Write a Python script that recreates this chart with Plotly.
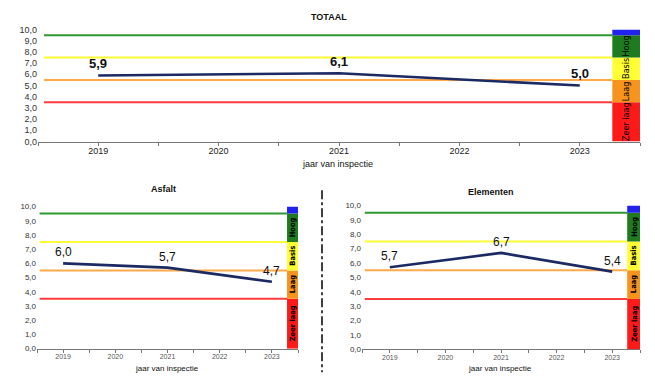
import plotly.graph_objects as go

years = [2019, 2020, 2021, 2022, 2023]
totaal = [5.9, None, 6.1, None, 5.0]
asfalt = [6.0, None, 5.7, None, 4.7]
elementen = [5.7, None, 6.7, None, 5.4]

thresholds = [3.5, 5.5, 7.5, 9.5]
threshold_colors = ["#FF3B3B", "#FFAA4A", "#FFFF33", "#2E9A2E"]

band_edges = [0, 3.5, 5.5, 7.5, 9.5, 10]
band_colors = ["#FF1A1A", "#F7941D", "#FFFF33", "#1E7B1E", "#2222EE"]
band_labels = ["Zeer laag", "Laag", "Basis", "Hoog", ""]

yticks = [0, 1, 2, 3, 4, 5, 6, 7, 8, 9, 10]

LINE = "#1B2A63"
FONT = "Liberation Sans, Arial, sans-serif"
NARROW = "Liberation Sans Narrow, Arial Narrow, DejaVu Sans Condensed, Liberation Sans, sans-serif"
WIN_W, WIN_H = 655, 388
OFF = 8  # default page body margin
W, H = WIN_W - OFF, WIN_H - OFF


def px(x):
    return (x - OFF) / W


def py(y):
    return 1 - (y - OFF) / H


panels = [
    dict(name="TOTAAL", data=totaal, x=(38, 640), y=(25, 140), bar0=2023.27,
         title=(329, 12), xl=(338, 163), lab_size=13, lab_bold=True, lab_shift=12,
         tick_size=9, ytick_size=9, band_size=9, band_bold=False, tickcol="#222", xl_size=9),
    dict(name="Asfalt", data=asfalt, x=(37, 298), y=(206.7, 352.7), bar0=2023.29,
         title=(163, 189), xl=(167, 373), lab_size=12, lab_bold=False, lab_shift=11,
         tick_size=7, ytick_size=8, band_size=7.5, band_bold=True, tickcol="#555", xl_size=8),
    dict(name="Elementen", data=elementen, x=(362, 640), y=(205.7, 353.3), bar0=2023.27,
         title=(491, 192), xl=(500, 373), lab_size=12, lab_bold=False, lab_shift=11,
         tick_size=7, ytick_size=8, band_size=7.5, band_bold=True, tickcol="#555", xl_size=8),
]

fig = go.Figure()
shapes = []
annotations = []

for i, p in enumerate(panels):
    sfx = "" if i == 0 else str(i + 1)
    xa, ya = "x" + sfx, "y" + sfx
    fig.add_trace(go.Scatter(
        x=years, y=p["data"], mode="lines", connectgaps=True,
        line=dict(color=LINE, width=2.6),
        xaxis=xa, yaxis=ya, showlegend=False, hoverinfo="skip"))

    for yr, v in zip(years, p["data"]):
        if v is None:
            continue
        t = f"{v:.1f}".replace(".", ",")
        if p["lab_bold"]:
            t = f"<b>{t}</b>"
        annotations.append(dict(xref=xa, yref=ya, x=yr, y=v, text=t, showarrow=False,
                                yshift=p["lab_shift"], xanchor="center", yanchor="middle",
                                font=dict(family=FONT, size=p["lab_size"], color="#111")))

    fig.layout["xaxis" + sfx] = dict(
        domain=[px(p["x"][0]), px(p["x"][1])], anchor=ya, range=[2018.5, 2023.5],
        tickvals=years, ticktext=[str(y) for y in years], ticks="",
        ticklabelstandoff=1,
        showline=True, linecolor="#777", linewidth=1, showgrid=False, zeroline=False,
        tickfont=dict(family=FONT, size=p["tick_size"], color=p["tickcol"]),
        minor=dict(ticks="outside", tick0=2018.5, dtick=0.5, ticklen=3, tickcolor="#777"),
    )
    fig.layout["yaxis" + sfx] = dict(
        domain=[py(p["y"][1]), py(p["y"][0])], anchor=xa, range=[0, 10],
        tickvals=yticks, tickformat=".1f",
        showgrid=False, zeroline=False, showline=False, ticks="",
        tickfont=dict(family=FONT, size=p["ytick_size"], color="#333"),
    )

    for t, c in zip(thresholds, threshold_colors):
        shapes.append(dict(type="line", xref=xa, yref=ya, x0=2018.55, x1=p["bar0"],
                           y0=t, y1=t, line=dict(color=c, width=2), layer="below"))
    for k in range(len(band_colors)):
        shapes.append(dict(type="rect", xref=xa, yref=ya, x0=p["bar0"], x1=2023.5,
                           y0=band_edges[k], y1=band_edges[k + 1],
                           fillcolor=band_colors[k], line=dict(width=0), layer="above"))
        if band_labels[k]:
            lab = f"<b>{band_labels[k]}</b>" if p["band_bold"] else band_labels[k]
            annotations.append(dict(
                xref=xa, yref=ya, x=(p["bar0"] + 2023.5) / 2,
                y=(band_edges[k] + band_edges[k + 1]) / 2, text=lab,
                textangle=-90, showarrow=False,
                font=dict(family=NARROW, size=p["band_size"], color="#000")))

    annotations.append(dict(xref="paper", yref="paper", x=px(p["title"][0]), y=py(p["title"][1]),
                            text=f"<b>{p['name']}</b>", showarrow=False,
                            font=dict(family=FONT, size=9, color="#111"),
                            xanchor="center", yanchor="middle"))
    annotations.append(dict(xref="paper", yref="paper", x=px(p["xl"][0]), y=py(p["xl"][1]),
                            text="jaar van inspectie", showarrow=False,
                            font=dict(family=FONT, size=p["xl_size"], color="#111"),
                            xanchor="center", yanchor="middle"))

shapes.append(dict(type="line", xref="paper", yref="paper", x0=px(322), x1=px(322),
                   y0=py(190), y1=py(377),
                   line=dict(color="#000", width=1.5, dash="dashdot")))

fig.update_layout(width=W, height=H, margin=dict(l=0, r=0, t=0, b=0),
                  paper_bgcolor="white", plot_bgcolor="white", separators=",.",
                  shapes=shapes, annotations=annotations, showlegend=False)

fig.write_html("out.html")
